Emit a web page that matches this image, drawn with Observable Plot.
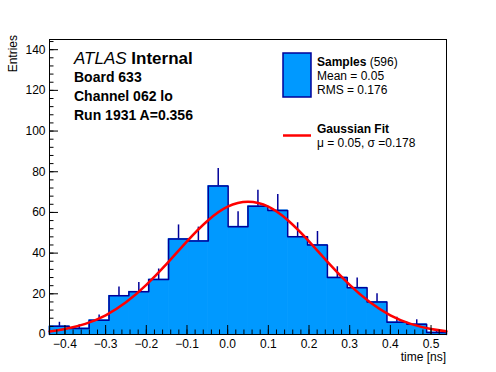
<!DOCTYPE html>
<html><head><meta charset="utf-8">
<script src="https://cdn.jsdelivr.net/npm/d3@7"></script>
<script src="https://cdn.jsdelivr.net/npm/@observablehq/plot@0.6"></script>
<style>body{margin:0;background:#fff} svg{display:block}</style>
</head><body><div id="chart"></div>
<script>
// ---- data ----
const binStart = -0.438;
const binWidth = 0.0488;
const counts = [4, 3, 7, 19, 21, 27, 47, 46, 73, 53, 63, 61, 48, 44, 28, 23, 16, 6, 5, 1];
const fitX = [-0.438, -0.4, -0.35, -0.3, -0.25, -0.2, -0.15, -0.1, -0.05, 0, 0.05, 0.1, 0.15, 0.2, 0.25, 0.3, 0.35, 0.4, 0.45, 0.5, 0.538];
const fitY = [1.5, 2.7, 5.2, 9.4, 15.8, 24.4, 34.7, 45.8, 55.8, 62.8, 65.2, 62.8, 55.8, 45.8, 34.7, 24.4, 15.8, 9.4, 5.2, 2.7, 1.6];
const xMajor = [-0.4, -0.3, -0.2, -0.1, 0, 0.1, 0.2, 0.3, 0.4, 0.5];
const yMajor = [0, 20, 40, 60, 80, 100, 120, 140];
const xDomain = [-0.438, 0.538];
const yDomain = [0, 145];

// ---- layout ----
const W = 496, H = 372, mL = 49, mR = 50, mT = 39, mB = 38;
const pw = W - mL - mR, ph = H - mT - mB;
const FONT = "'Liberation Sans', Arial, Helvetica, sans-serif";
const fillBlue = "#0099ff", darkBlue = "#000099";

const bins = counts.map((n, i) => ({x1: binStart + i * binWidth, x2: binStart + (i + 1) * binWidth, n}));
const steps = [{x: bins[0].x1, y: 0}, ...bins.map(b => ({x: b.x1, y: b.n})),
  {x: bins[bins.length - 1].x2, y: counts[counts.length - 1]}, {x: bins[bins.length - 1].x2, y: 0}];
const fit = fitX.map((x, i) => ({x, y: fitY[i]}));
const xMinor = d3.range(-0.42, 0.53, 0.02).map(v => +v.toFixed(2));
const yMinor = d3.range(0, 146, 4);

const plot = Plot.plot({
  width: W, height: H,
  marginLeft: mL, marginRight: mR, marginTop: mT, marginBottom: mB,
  style: {fontFamily: FONT, fontSize: "12px", color: "black", background: "white"},
  x: {domain: xDomain},
  y: {domain: yDomain},
  marks: [
    Plot.rect(bins, {x1: "x1", x2: "x2", y1: 0, y2: "n", fill: fillBlue, stroke: fillBlue, strokeWidth: 0.8}),
    Plot.ruleX(bins, {x: d => (d.x1 + d.x2) / 2, y1: "n", y2: d => d.n + Math.sqrt(d.n), stroke: darkBlue, strokeWidth: 1.5}),
    Plot.line(steps, {x: "x", y: "y", curve: "step-after", stroke: darkBlue, strokeWidth: 1.5}),
    Plot.line(fit, {x: "x", y: "y", curve: "natural", stroke: "#ff0000", strokeWidth: 2.5}),
    Plot.ruleY(yMajor, {y: d => d, insetRight: pw - 9, stroke: "black"}),
    Plot.ruleY(yMinor, {y: d => d, insetRight: pw - 4.5, stroke: "black"}),
    Plot.ruleX(xMajor, {x: d => d, insetTop: ph - 9, stroke: "black"}),
    Plot.ruleX(xMinor, {x: d => d, insetTop: ph - 4.5, stroke: "black"}),
    Plot.frame({stroke: "black", strokeWidth: 1}),
    Plot.axisY({ticks: yMajor, tickSize: 0, tickPadding: 4, label: null, fontSize: 12}),
    Plot.axisX({ticks: xMajor, tickSize: 0, tickPadding: 5, label: null, fontSize: 12})
  ]
});
document.getElementById("chart").appendChild(plot);

// ---- annotations & legend ----
const svg = d3.select(plot);
const g = svg.append("g").attr("font-family", FONT).attr("fill", "black").attr("text-anchor", "start");

g.append("text").attr("transform", "translate(17,35) rotate(-90)").attr("text-anchor", "end")
  .attr("font-size", 12).text("Entries");
g.append("text").attr("x", 446).attr("y", 361).attr("text-anchor", "end")
  .attr("font-size", 12).text("time [ns]");

const t1 = g.append("text").attr("x", 74).attr("y", 64).attr("font-size", 17);
t1.append("tspan").attr("font-style", "italic").text("ATLAS");
t1.append("tspan").attr("font-weight", "bold").text(" Internal");
[["Board 633", 82], ["Channel 062 lo", 101], ["Run 1931 A=0.356", 120]].forEach(([s, y]) =>
  g.append("text").attr("x", 74).attr("y", y).attr("font-size", 14).attr("font-weight", "bold").text(s));

g.append("rect").attr("x", 283).attr("y", 53).attr("width", 28).attr("height", 44)
  .attr("fill", fillBlue).attr("stroke", darkBlue).attr("stroke-width", 1.5);
const s1 = g.append("text").attr("x", 317).attr("y", 66).attr("font-size", 12);
s1.append("tspan").attr("font-weight", "bold").text("Samples");
s1.append("tspan").text(" (596)");
g.append("text").attr("x", 317).attr("y", 80).attr("font-size", 12).text("Mean = 0.05");
g.append("text").attr("x", 317).attr("y", 94).attr("font-size", 12).text("RMS = 0.176");

g.append("line").attr("x1", 283).attr("x2", 311).attr("y1", 135.5).attr("y2", 135.5)
  .attr("stroke", "#ff0000").attr("stroke-width", 2.5);
g.append("text").attr("x", 317).attr("y", 133).attr("font-size", 12).attr("font-weight", "bold").text("Gaussian Fit");
g.append("text").attr("x", 317).attr("y", 147).attr("font-size", 12).text("μ = 0.05, σ =0.178");
</script>
</body></html>
